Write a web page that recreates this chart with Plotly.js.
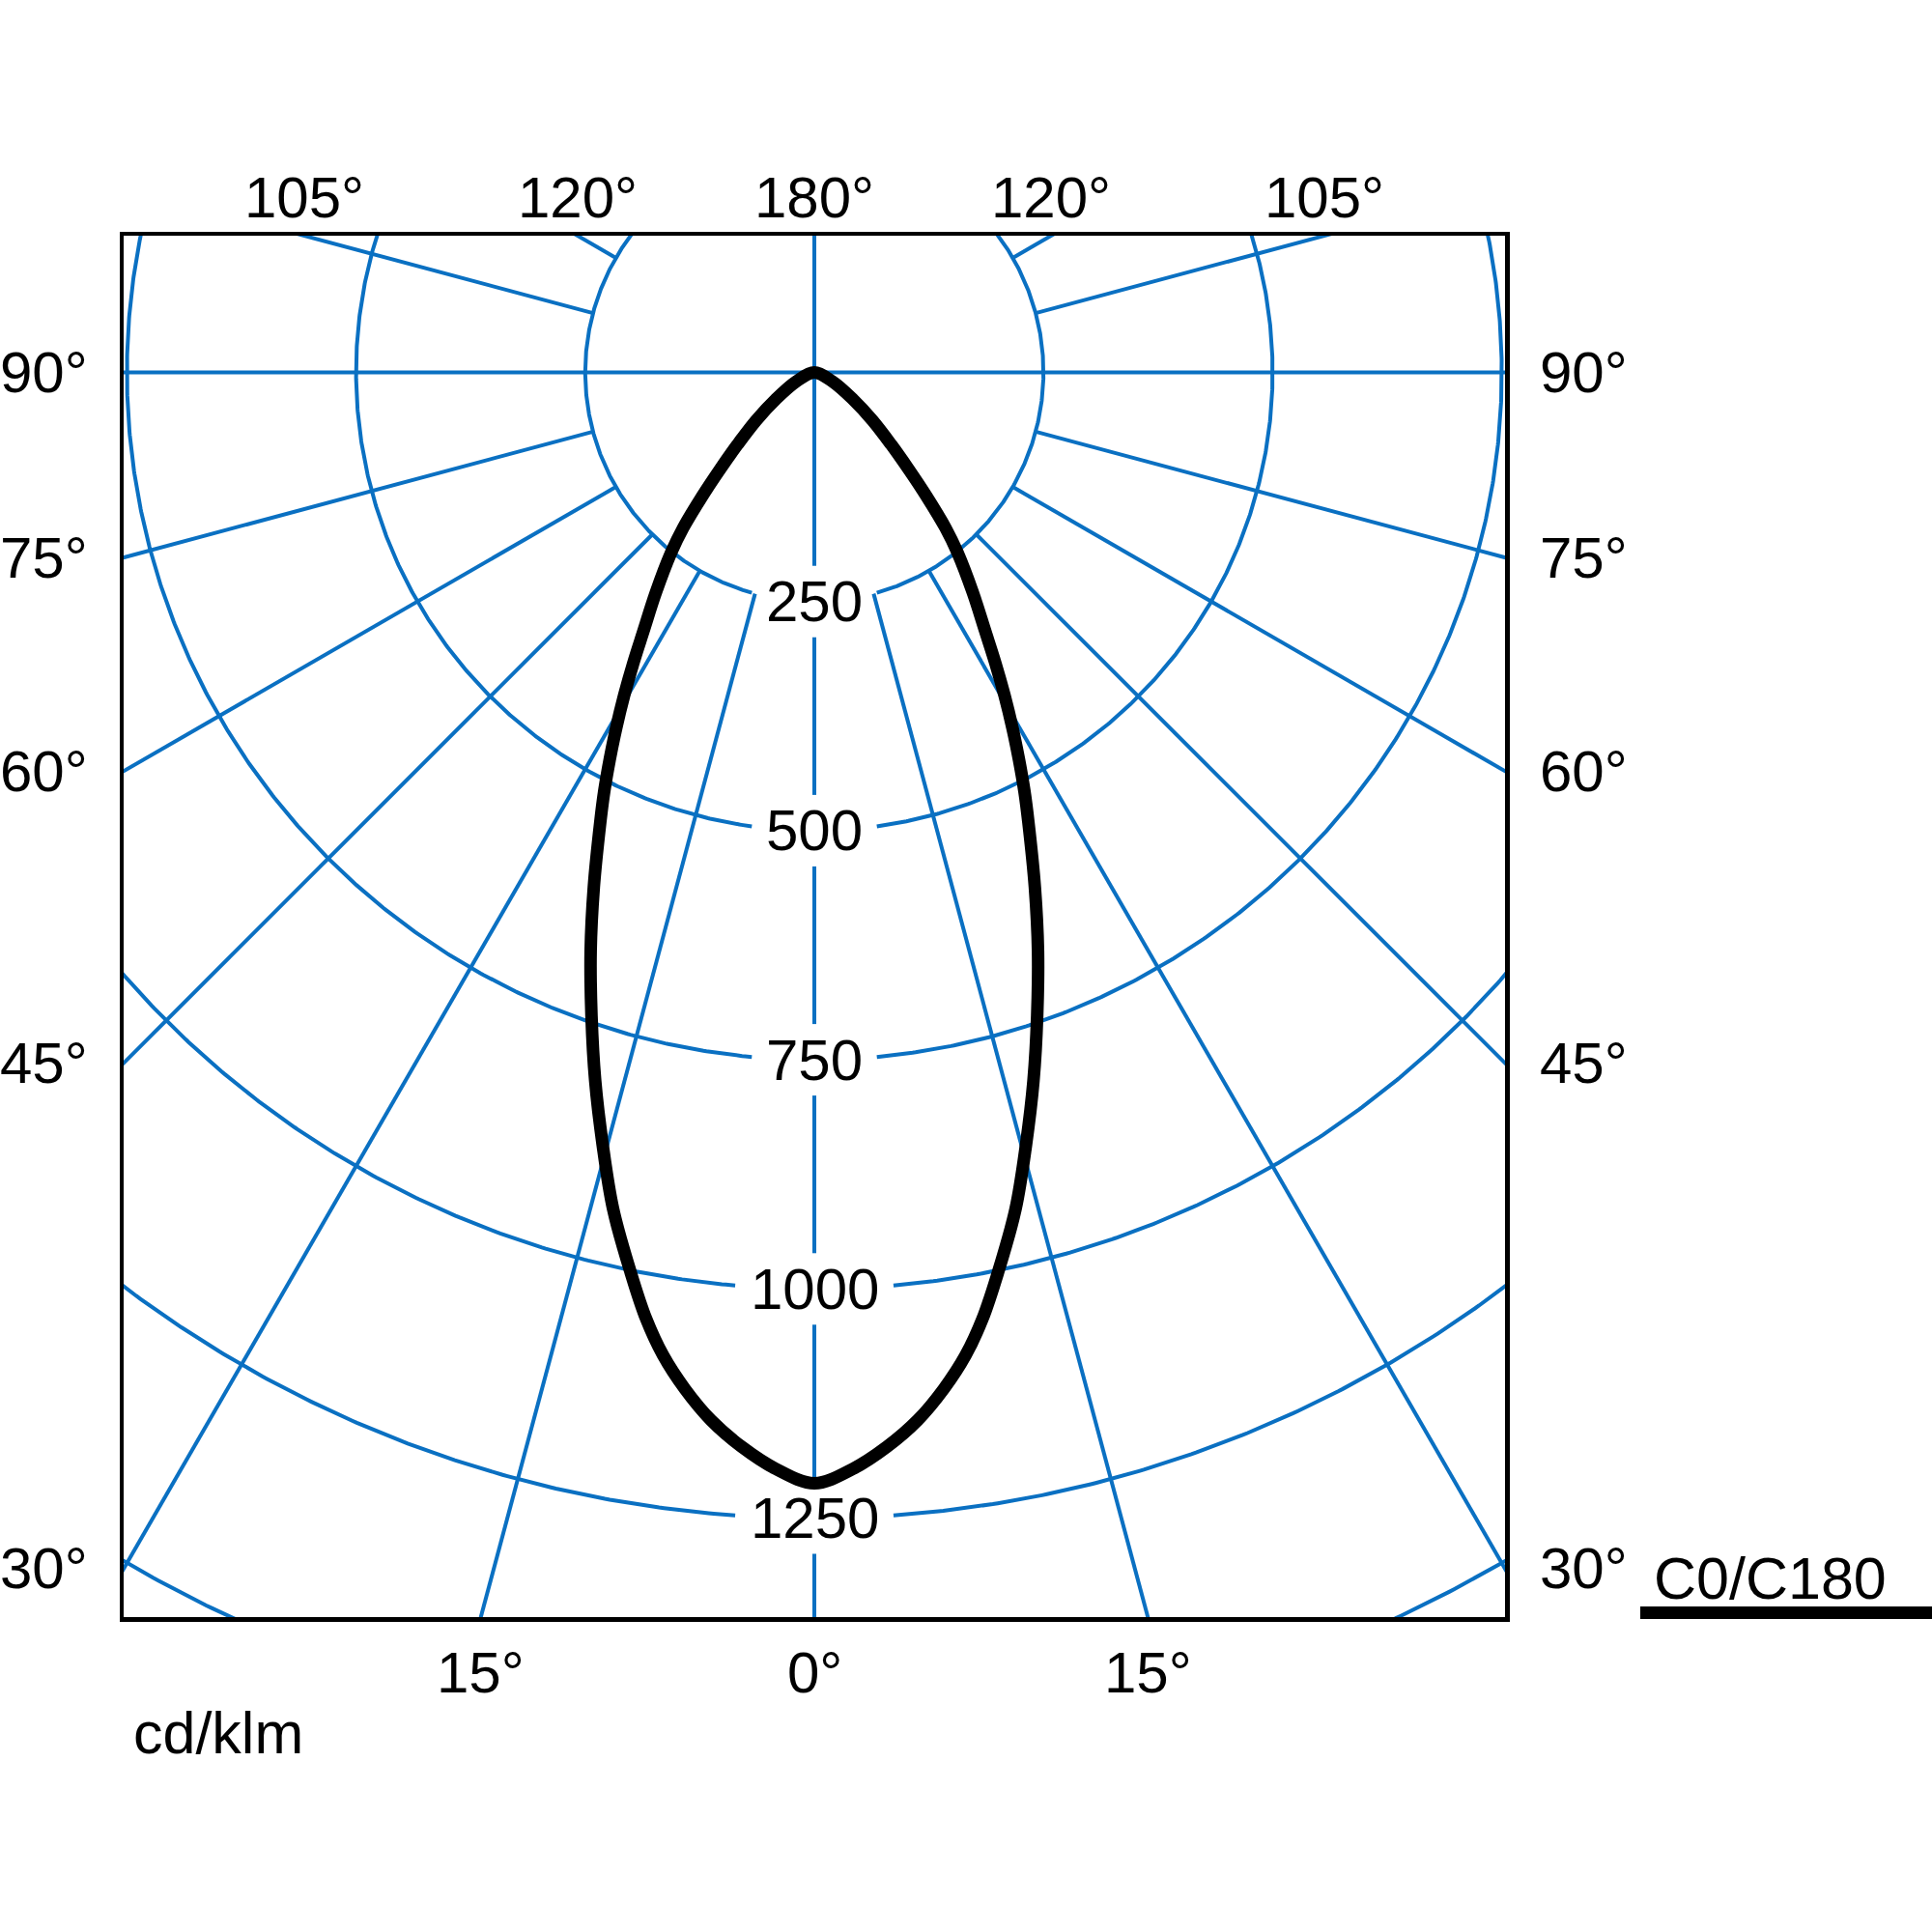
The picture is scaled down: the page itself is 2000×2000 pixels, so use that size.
<!DOCTYPE html>
<html>
<head>
<meta charset="utf-8">
<script src="https://cdn.plot.ly/plotly-3.0.1.min.js"></script>
<style>html,body{margin:0;padding:0;background:#fff}</style>
</head>
<body>
<div id="chart" style="width:2000px;height:2000px"></div>
<script>
// ---- Data (C0/C180 plane, cd/klm vs gamma angle in degrees) ----
const gammaDeg      = [0, 2.02, 3.86, 5.62, 7.26, 8.75, 10.07, 11.51, 13.52, 15.32, 17.19, 19.10, 21.13, 23.19, 25.43, 26.61, 27.85, 29.13, 30.49, 31.90, 33.46, 35.75, 38.48, 40.15, 42.18, 44.25, 46.79, 50.5, 55.2, 63.4, 90];
const intensityC0   = [1212, 1197, 1175, 1149, 1118, 1085, 1049, 1003, 939, 874, 809, 743, 677, 611, 544, 512, 478, 444, 409, 374, 338, 296, 251, 222, 182, 147, 115, 82, 51, 22, 0];
const intensityC180 = [1212, 1197, 1175, 1149, 1118, 1085, 1049, 1003, 939, 874, 809, 743, 677, 611, 544, 512, 478, 444, 409, 374, 338, 296, 251, 222, 182, 147, 115, 82, 51, 22, 0];

const ringValues   = [250, 500, 750, 1000, 1250, 1500];
const ringLabels   = ['250', '500', '750', '1000', '1250'];
const spokeAngles  = [15, 30, 45, 60, 75, 105, 120, 135, 150, 165];
const topTickAngles    = [105, 120, 180, 120, 105];
const topTickSides     = [-1, -1, 0, 1, 1];
const sideTickAngles   = [90, 75, 60, 45, 30];
const bottomTickAngles = [15, 0, 15];
const bottomTickSides  = [-1, 0, 1];
const unitLabel  = 'cd/klm';
const planeLabel = 'C0/C180';

// ---- Styling / geometry ----
const FONT = 'Liberation Sans, Arial, Helvetica, sans-serif';
const FS = 60;
const BLUE = '#0a70c2';
const PX_PER_CD = 237.2 / 250;
const XR = 715 / PX_PER_CD;
const YTOP = 141.5 / PX_PER_CD;
const YBOT = -1288.5 / PX_PER_CD;
const FAR = 3000;

const rad = d => d * Math.PI / 180;
const toXY = (r, gDeg, side) => [side * r * Math.sin(rad(gDeg)), -r * Math.cos(rad(gDeg))];

// rings (with gaps behind the value labels)
const rx = [], ry = [];
ringValues.forEach((R, i) => {
  let g0 = 0;
  if (i < ringLabels.length) {
    const halfPx = (ringLabels[i].length * 0.556 * 62 + 26) / 2;
    g0 = Math.asin(halfPx / PX_PER_CD / R) * 180 / Math.PI;
  }
  for (let a = g0; a < 360 - g0; a += 0.25) { const p = toXY(R, a, 1); rx.push(p[0]); ry.push(p[1]); }
  const pe = toXY(R, 360 - g0, 1); rx.push(pe[0]); ry.push(pe[1]);
  rx.push(null); ry.push(null);
});

// spokes starting at the first ring
const sx = [], sy = [];
spokeAngles.forEach(a => [-1, 1].forEach(s => {
  const p0 = toXY(ringValues[0], a, s), p1 = toXY(FAR, a, s);
  sx.push(p0[0], p1[0], null); sy.push(p0[1], p1[1], null);
}));
// 90 deg line through the centre
{ const pl = toXY(FAR, 90, -1), pr = toXY(FAR, 90, 1); sx.push(pl[0], pr[0], null); sy.push(pl[1], pr[1], null); }
// 0/180 line with gaps behind labels
{
  const gapV = 37 / PX_PER_CD;
  let yStart = FAR;
  ringLabels.forEach((t, i) => {
    const yc = -ringValues[i];
    sx.push(0, 0, null); sy.push(yStart, yc + gapV, null);
    yStart = yc - gapV;
  });
  sx.push(0, 0, null); sy.push(yStart, -FAR, null);
}

// intensity curve: right half (C0) from nadir up to the tip, then left half (C180) back down to nadir
const cx = [], cy = [];
for (let i = 0; i < gammaDeg.length; i++) { const p = toXY(intensityC0[i], gammaDeg[i], 1); cx.push(p[0]); cy.push(p[1]); }
for (let i = gammaDeg.length - 2; i >= 0; i--) { const p = toXY(intensityC180[i], gammaDeg[i], -1); cx.push(p[0]); cy.push(p[1]); }

const traces = [
  {x: rx, y: ry, mode: 'lines', line: {color: BLUE, width: 4}, hoverinfo: 'skip', connectgaps: false},
  {x: sx, y: sy, mode: 'lines', line: {color: BLUE, width: 4}, hoverinfo: 'skip', connectgaps: false},
  {x: cx, y: cy, mode: 'lines', line: {color: '#000', width: 13, shape: 'spline', smoothing: 1, simplify: false}, name: planeLabel, hoverinfo: 'skip'}
];

const txt = (o) => Object.assign({showarrow: false, font: {family: FONT, size: FS, color: '#000'}}, o);
const ann = [];
ringLabels.forEach((t, i) => ann.push(txt({x: 0, y: -ringValues[i], xref: 'x', yref: 'y', text: t, xanchor: 'center', yanchor: 'middle'})));
topTickAngles.forEach((a, i) => {
  const g = rad(a);
  const x = topTickSides[i] * Math.sin(g) * YTOP / (-Math.cos(g));
  ann.push(txt({x: x, y: 1, xref: 'x', yref: 'paper', text: a + '°', xanchor: 'center', yanchor: 'bottom', yshift: 4}));
});
bottomTickAngles.forEach((a, i) => {
  const g = rad(a);
  const x = bottomTickSides[i] * Math.sin(g) * (-YBOT) / Math.cos(g);
  ann.push(txt({x: x, y: 0, xref: 'x', yref: 'paper', text: a + '°', xanchor: 'center', yanchor: 'top', yshift: -22}));
});
sideTickAngles.forEach(a => {
  const g = rad(a);
  const y = -Math.cos(g) * XR / Math.sin(g);
  ann.push(txt({x: 0, y: y, xref: 'paper', yref: 'y', text: a + '°', xanchor: 'right', yanchor: 'middle', xshift: -35}));
  ann.push(txt({x: 1, y: y, xref: 'paper', yref: 'y', text: a + '°', xanchor: 'left', yanchor: 'middle', xshift: 34}));
});
ann.push(txt({x: (1710 - 128) / 1430, y: (1674 - 1634) / 1430, xref: 'paper', yref: 'paper', text: planeLabel, xanchor: 'left', yanchor: 'middle', font: {family: FONT, size: 61, color: '#000'}}));
ann.push(txt({x: (136 - 128) / 1430, y: (1674 - 1794) / 1430, xref: 'paper', yref: 'paper', text: unitLabel, xanchor: 'left', yanchor: 'middle', font: {family: FONT, size: 61, color: '#000'}}));

const layout = {
  width: 2000, height: 2000,
  margin: {l: 128, r: 442, t: 244, b: 326, pad: 0},
  paper_bgcolor: '#fff', plot_bgcolor: '#fff',
  showlegend: false,
  xaxis: {range: [-XR, XR], showgrid: false, zeroline: false, showticklabels: false, ticks: '',
          showline: true, mirror: true, linecolor: '#000', linewidth: 4.5, fixedrange: true},
  yaxis: {range: [YBOT, YTOP], showgrid: false, zeroline: false, showticklabels: false, ticks: '',
          showline: true, mirror: true, linecolor: '#000', linewidth: 4.5, fixedrange: true},
  annotations: ann,
  shapes: [{type: 'line', xref: 'paper', yref: 'paper', x0: (1698 - 128) / 1430, x1: (2000 - 128) / 1430,
            y0: (1674 - 1669.5) / 1430, y1: (1674 - 1669.5) / 1430, line: {color: '#000', width: 13}}]
};

Plotly.newPlot('chart', traces, layout, {staticPlot: true, displayModeBar: false});
</script>
</body>
</html>
